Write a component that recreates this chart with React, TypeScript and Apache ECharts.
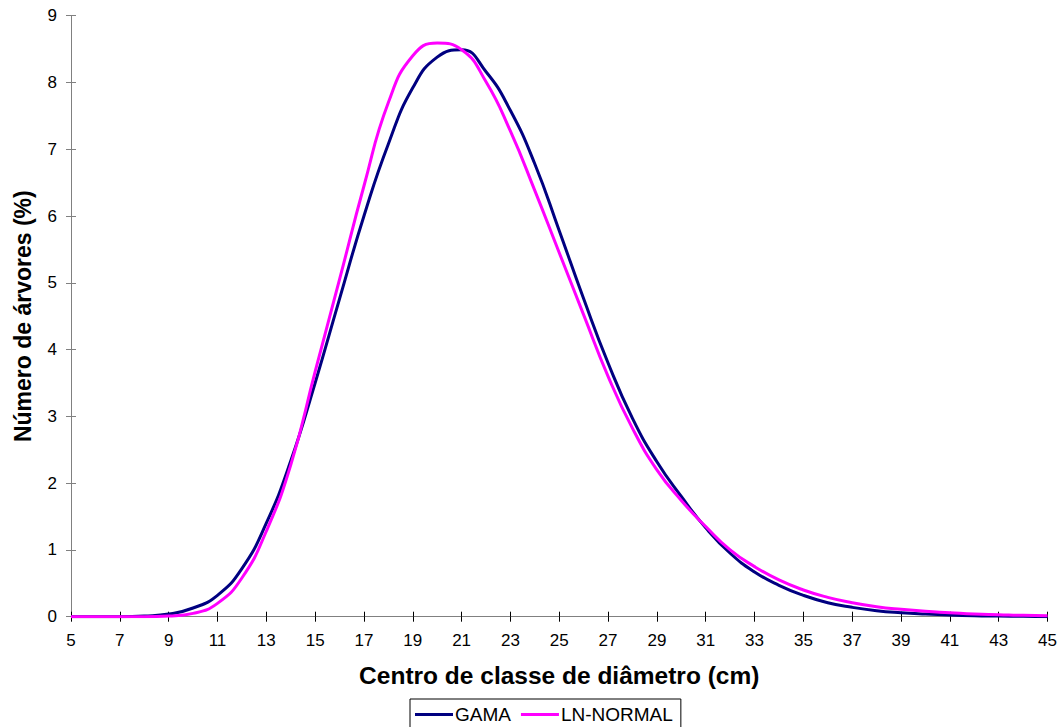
import React, { useEffect, useRef } from "react";
import * as echarts from "echarts";

const diameters = [
  "5", "6", "7", "8", "9", "10", "11", "12", "13", "14", "15", "16", "17", "18", "19", "20", "21", "22", "23", "24", "25",
  "26", "27", "28", "29", "30", "31", "32", "33", "34", "35", "36", "37", "38", "39", "40", "41", "42", "43", "44", "45",
];

const gama = [
  0, 0, 0, 0.01, 0.04, 0.13, 0.32, 0.72, 1.4, 2.33, 3.5, 4.76, 6.0, 7.08, 7.92, 8.38, 8.49, 8.16, 7.58, 6.78, 5.78,
  4.76, 3.8, 2.97, 2.32, 1.8, 1.33, 0.95, 0.67, 0.47, 0.32, 0.21, 0.14, 0.09, 0.06, 0.04, 0.025, 0.015, 0.01, 0.005, 0,
];

const lnNormal = [
  0, 0, 0, 0, 0.01, 0.05, 0.2, 0.58, 1.28, 2.27, 3.67, 5.05, 6.45, 7.7, 8.4, 8.59, 8.49, 8.01, 7.27, 6.38, 5.45,
  4.52, 3.6, 2.82, 2.2, 1.74, 1.35, 1.0, 0.75, 0.55, 0.4, 0.29, 0.21, 0.15, 0.11, 0.08, 0.06, 0.04, 0.03, 0.02, 0.015,
];

const yTicks = { min: 0, max: 9, interval: 1 };

const FONT = "'Liberation Sans', Arial, sans-serif";

export default function App() {
  const ref = useRef<HTMLDivElement>(null);

  useEffect(() => {
    if (!ref.current) return;
    const chart = echarts.init(ref.current, null, { renderer: "svg" });
    chart.setOption({
      animation: false,
      backgroundColor: "#ffffff",
      textStyle: { fontFamily: FONT, color: "#000" },
      grid: { left: 71, right: 15.5, top: 15.7, bottom: 110.3, containLabel: false },
      legend: {
        left: 410,
        top: 699,
        data: ["GAMA", "LN-NORMAL"],
        icon: "rect",
        itemWidth: 38,
        itemHeight: 3,
        itemGap: 10,
        padding: [6, 8, 8, 5],
        borderColor: "#000",
        borderWidth: 1,
        borderRadius: 0,
        textStyle: { fontFamily: FONT, fontSize: 19, color: "#000", padding: [0, 0, 0, -3] },
      },
      xAxis: [
        {
          type: "category",
          data: diameters,
          boundaryGap: false,
          position: "bottom",
          name: "Centro de classe de diâmetro (cm)",
          nameLocation: "middle",
          nameGap: 46,
          nameTextStyle: { fontFamily: FONT, fontSize: 24.5, fontWeight: "bold", color: "#000" },
          axisLine: { lineStyle: { color: "#808080", width: 1 } },
          axisTick: { show: true, interval: 1, length: 5, inside: false, lineStyle: { color: "#000" } },
          axisLabel: { interval: 1, margin: 15, fontFamily: FONT, fontSize: 17, color: "#000" },
          splitLine: { show: false },
        },
        {
          type: "category",
          data: diameters,
          boundaryGap: false,
          position: "bottom",
          axisLine: { show: false },
          axisTick: { show: true, interval: 1, length: 5, inside: true, lineStyle: { color: "#000" } },
          axisLabel: { show: false },
          splitLine: { show: false },
        },
      ],
      yAxis: [
        {
          type: "value",
          min: yTicks.min,
          max: yTicks.max,
          interval: yTicks.interval,
          position: "left",
          name: "Número de árvores (%)",
          nameLocation: "middle",
          nameRotate: 90,
          nameGap: 37,
          nameTextStyle: { fontFamily: FONT, fontSize: 23, fontWeight: "bold", color: "#000" },
          axisLine: { show: true, lineStyle: { color: "#808080", width: 1 } },
          axisTick: { show: true, length: 5, inside: false, lineStyle: { color: "#808080" } },
          axisLabel: { margin: 14, fontFamily: FONT, fontSize: 17, color: "#000" },
          splitLine: { show: false },
        },
        {
          type: "value",
          min: yTicks.min,
          max: yTicks.max,
          interval: yTicks.interval,
          position: "left",
          axisLine: { show: false },
          axisTick: { show: true, length: 5, inside: true, lineStyle: { color: "#808080" } },
          axisLabel: { show: false },
          splitLine: { show: false },
        },
      ],
      series: [
        {
          name: "GAMA",
          type: "line",
          data: gama,
          smooth: 0.5,
          symbol: "none",
          lineStyle: { color: "#000080", width: 3 },
          itemStyle: { color: "#000080" },
        },
        {
          name: "LN-NORMAL",
          type: "line",
          data: lnNormal,
          smooth: 0.5,
          symbol: "none",
          lineStyle: { color: "#FF00FF", width: 3 },
          itemStyle: { color: "#FF00FF" },
        },
      ],
    });
    return () => chart.dispose();
  }, []);

  return (
    <div
      ref={ref}
      style={{ position: "fixed", left: 0, top: 0, width: 1063, height: 727, background: "#fff" }}
    />
  );
}
